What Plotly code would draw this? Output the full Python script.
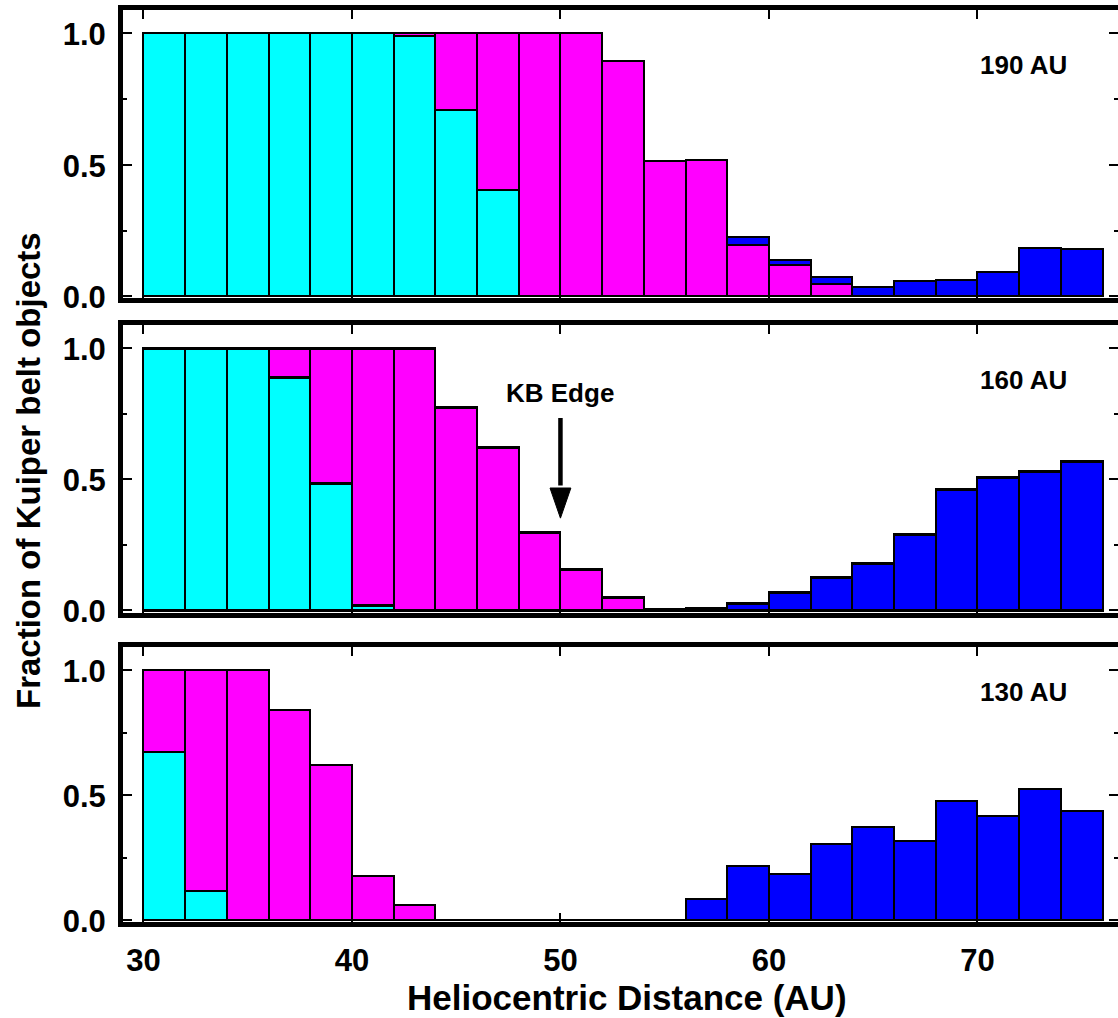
import plotly.graph_objects as go

# ---------------- data ----------------
bin_left = list(range(30, 76, 2))          # 2-AU bins from 30 to 76 AU
bin_centers = [b + 1 for b in bin_left]
bin_width = 2

# Panel 1 : 190 AU
cyan_190 = [1.0, 1.0, 1.0, 1.0, 1.0, 1.0, 0.99, 0.71, 0.405, 0, 0, 0, 0, 0, 0, 0, 0, 0, 0, 0, 0, 0, 0]
mag_190 = [0, 0, 0, 0, 0, 0, 0.01, 0.29, 0.595, 1.0, 1.0, 0.897, 0.514, 0.518, 0.194, 0.118, 0.047, 0, 0, 0, 0, 0, 0]
blue_190 = [0, 0, 0, 0, 0, 0, 0, 0, 0, 0, 0, 0, 0, 0, 0.031, 0.019, 0.025, 0.036, 0.06, 0.063, 0.091, 0.184, 0.18]

# Panel 2 : 160 AU
cyan_160 = [1.0, 1.0, 1.0, 0.889, 0.483, 0.017, 0, 0, 0, 0, 0, 0, 0, 0, 0, 0, 0, 0, 0, 0, 0, 0, 0]
mag_160 = [0, 0, 0, 0.111, 0.517, 0.983, 1.0, 0.775, 0.621, 0.298, 0.155, 0.048, 0.004, 0, 0, 0, 0, 0, 0, 0, 0, 0, 0]
blue_160 = [0, 0, 0, 0, 0, 0, 0, 0, 0, 0, 0, 0, 0, 0.008, 0.027, 0.067, 0.125, 0.178, 0.288, 0.461, 0.506, 0.528, 0.568]

# Panel 3 : 130 AU
cyan_130 = [0.672, 0.117, 0, 0, 0, 0, 0, 0, 0, 0, 0, 0, 0, 0, 0, 0, 0, 0, 0, 0, 0, 0, 0]
mag_130 = [0.328, 0.883, 1.0, 0.84, 0.622, 0.178, 0.059, 0, 0, 0, 0, 0, 0, 0, 0, 0, 0, 0, 0, 0, 0, 0, 0]
blue_130 = [0, 0, 0, 0, 0, 0, 0, 0, 0, 0, 0, 0, 0, 0.084, 0.215, 0.186, 0.303, 0.372, 0.315, 0.475, 0.415, 0.523, 0.436]

panel_labels = ["190 AU", "160 AU", "130 AU"]
x_tickvals = [30, 40, 50, 60, 70]
y_tickvals = [0, 0.5, 1.0]
y_ticktext = ["0.0", "0.5", "1.0"]
y_minor = [0.25, 0.75]

kb_edge_x = 50
kb_arrow_top, kb_head_base, kb_arrow_tip = 0.733, 0.466, 0.351

# ---------------- styling ----------------
W, H = 1118, 1018
FONT = "Liberation Sans, Arial, Helvetica, sans-serif"
CYAN, MAGENTA, BLUE = "#00FFFF", "#FF00FF", "#0000FF"

# panel pixel boxes (top, bottom) of plot area
panel_px = [(10, 298), (324.5, 613), (647, 922)]
yranges = [[-0.006, 1.089], [-0.011, 1.090], [-0.008, 1.092]]
x_left_px = 123
XRANGE = [29.02, 76.74]
label_y = [0.88, 0.88, 0.912]

series = [
    (cyan_190, mag_190, blue_190),
    (cyan_160, mag_160, blue_160),
    (cyan_130, mag_130, blue_130),
]

fig = go.Figure()
for i, (c, m, b) in enumerate(series):
    sfx = "" if i == 0 else str(i + 1)
    for vals, col in ((c, CYAN), (m, MAGENTA), (b, BLUE)):
        fig.add_trace(go.Bar(
            x=bin_centers, y=vals, width=bin_width,
            marker=dict(color=col, line=dict(color="black", width=2.2)),
            xaxis="x" + sfx, yaxis="y" + sfx, showlegend=False,
            hoverinfo="skip",
        ))

layout = dict(
    width=W, height=H,
    margin=dict(l=0, r=0, t=0, b=0),
    paper_bgcolor="white", plot_bgcolor="white",
    barmode="stack", bargap=0,
    font=dict(family=FONT, color="black"),
    showlegend=False,
)

axis_common = dict(
    showline=True, linewidth=5, linecolor="black", mirror="allticks",
    showgrid=False, zeroline=False, ticks="inside", tickcolor="black",
    automargin=False,
)

for i in range(3):
    sfx = "" if i == 0 else str(i + 1)
    top, bot = panel_px[i]
    ydom = [1 - bot / H, 1 - top / H]
    layout["xaxis" + sfx] = dict(
        axis_common, domain=[x_left_px / W, 1.0], range=XRANGE,
        anchor="y" + sfx, tickvals=x_tickvals, ticklen=9, tickwidth=2,
        showticklabels=(i == 2),
        tickfont=dict(family=FONT, size=31, weight="bold", color="black"),
        ticklabelstandoff=7,
    )
    layout["yaxis" + sfx] = dict(
        axis_common, domain=ydom, range=yranges[i],
        anchor="x" + sfx, tickvals=y_tickvals, ticktext=y_ticktext,
        ticklen=9, tickwidth=2,
        minor=dict(tickvals=y_minor, ticklen=4, tickwidth=2, ticks="inside", tickcolor="black"),
        tickfont=dict(family=FONT, size=31, weight="bold", color="black"),
        ticklabelshift=1, ticklabelstandoff=6,
    )

fig.update_layout(**layout)

annotations = []
for i, lab in enumerate(panel_labels):
    sfx = "" if i == 0 else str(i + 1)
    annotations.append(dict(
        x=72.2, y=label_y[i], xref="x" + sfx, yref="y" + sfx,
        text=lab, showarrow=False, xanchor="center", yanchor="middle",
        font=dict(family=FONT, size=26, weight="bold", color="black"),
    ))

annotations.append(dict(
    x=kb_edge_x, y=0.83, xref="x2", yref="y2", text="KB Edge",
    showarrow=False, xanchor="center", yanchor="middle",
    font=dict(family=FONT, size=26, weight="bold", color="black"),
))

annotations.append(dict(
    x=627 / W, y=1 - 997 / H, xref="paper", yref="paper",
    text="Heliocentric Distance (AU)", showarrow=False,
    xanchor="center", yanchor="middle",
    font=dict(family=FONT, size=35, weight="bold", color="black"),
))
annotations.append(dict(
    x=28 / W, y=1 - 471 / H, xref="paper", yref="paper",
    text="Fraction of Kuiper belt objects", showarrow=False, textangle=-90,
    xanchor="center", yanchor="middle",
    font=dict(family=FONT, size=33, weight="bold", color="black"),
))
fig.update_layout(annotations=annotations)

# KB edge arrow (shaft + head)
half_w = 0.5
fig.add_shape(type="line", xref="x2", yref="y2",
              x0=kb_edge_x, x1=kb_edge_x, y0=kb_arrow_top, y1=kb_head_base + 0.01,
              line=dict(color="black", width=4.5))
fig.add_shape(type="path", xref="x2", yref="y2",
              path=f"M {kb_edge_x - half_w},{kb_head_base} L {kb_edge_x + half_w},{kb_head_base} L {kb_edge_x},{kb_arrow_tip} Z",
              fillcolor="black", line=dict(color="black", width=1))

# remove the default page margin so the figure fills the window exactly
post_js = "document.body.style.margin='0';document.body.style.overflow='hidden';"
fig.write_html("out.html", post_script=post_js, config={"displayModeBar": False})
